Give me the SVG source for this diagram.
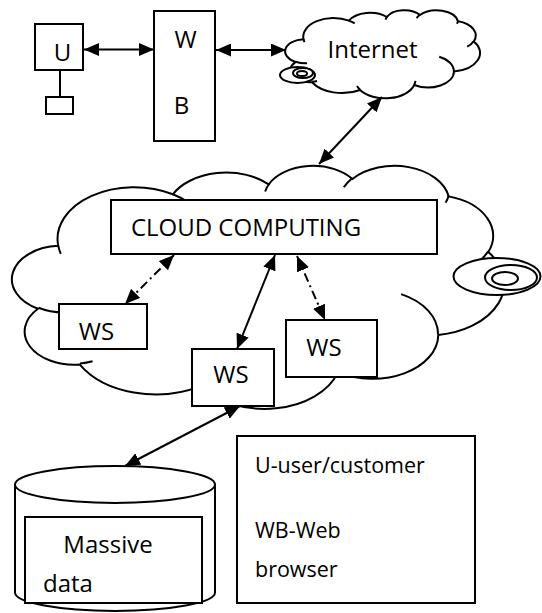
<svg xmlns="http://www.w3.org/2000/svg" width="542" height="613" viewBox="0 0 542 613">
  <defs>
    <style>
      .box { fill: #fff; stroke: #000; stroke-width: 2; }
      .ol { fill: none; stroke: #000; stroke-width: 2; }
      .cloudfill { fill: #fff; stroke: #000; stroke-width: 2; }
      .tail { fill: #fff; stroke: #000; stroke-width: 2; }
      .lbl { font-family: "Open Sans", "Noto Sans", "Liberation Sans", sans-serif; font-size: 24px; fill: #000; }
      .leg { font-family: "Open Sans", "Noto Sans", "Liberation Sans", sans-serif; font-size: 21.5px; fill: #000; }
      .mid { text-anchor: middle; }
      .link { fill: none; stroke: #000; stroke-width: 2; marker-start: url(#ah); marker-end: url(#ah); }
      .dashdot { stroke-dasharray: 9 4 2 4; }
    </style>
    <marker id="ah" viewBox="0 0 15 13" refX="15" refY="6.5" markerWidth="15" markerHeight="13" markerUnits="userSpaceOnUse" orient="auto-start-reverse">
      <path d="M0,0 L15,6.5 L0,13 z" fill="#000"/>
    </marker>
  </defs>

  <!-- large cloud -->
  <g id="cloud-computing-area">
    <path class="cloudfill" d="M58.24,245.83 A76.60,51.69 0 0 1 172.85,194.26 A60.49,40.88 0 0 1 268.71,184.31 A49.51,33.44 0 0 1 352.41,178.97 A55.09,37.10 0 0 1 448.65,196.38 A60.49,40.91 0 0 1 488.35,251.97 A76.85,51.86 0 0 1 438.27,334.89 A65.62,44.25 0 0 1 337.90,372.07 A76.59,51.83 0 0 1 200.95,385.88 A87.56,59.30 0 0 1 79.85,364.54 A49.45,33.29 0 0 1 37.99,308.73 A49.28,33.44 0 0 1 58.24,245.83 Z"/>
    <path class="ol" d="M67.23,312.25 A49.28,33.44 0 0 1 38.49,307.76 M92.58,361.31 A49.45,33.29 0 0 1 80.01,363.46 M200.90,384.88 A76.59,51.83 0 0 1 193.30,375.08 M340.97,360.47 A76.59,51.83 0 0 1 337.94,371.21 M401.11,294.12 A65.62,44.25 0 0 1 438.00,334.26 M488.10,251.37 A60.49,40.91 0 0 1 471.67,266.42 M448.69,195.52 A55.09,37.10 0 0 1 445.60,202.77 M343.82,187.23 A55.09,37.10 0 0 1 352.24,178.17 M265.14,191.55 A49.51,33.44 0 0 1 269.21,183.73 M172.80,194.21 A76.60,51.69 0 0 1 187.55,201.79 M60.81,253.81 A76.60,51.69 0 0 1 58.24,245.84"/>
    <ellipse class="tail" cx="497" cy="276.5" rx="43.5" ry="18.5"/>
    <ellipse class="tail" cx="511" cy="277.5" rx="26" ry="12.5"/>
    <ellipse class="tail" cx="505" cy="278.5" rx="13" ry="6.5"/>
  </g>

  <!-- internet cloud -->
  <g id="internet">
    <path class="cloudfill" d="M303.51,39.27 A30.33,18.72 0 0 1 348.89,20.60 A23.95,14.80 0 0 1 386.84,16.99 A19.60,12.11 0 0 1 419.98,15.06 A21.81,13.43 0 0 1 458.08,21.36 A23.95,14.82 0 0 1 473.80,41.50 A30.42,18.78 0 0 1 453.97,71.52 A25.98,16.02 0 0 1 414.24,84.99 A30.32,18.77 0 0 1 360.02,89.99 A34.67,21.48 0 0 1 312.07,82.26 A19.58,12.05 0 0 1 295.50,62.05 A19.51,12.11 0 0 1 303.51,39.27 Z"/>
    <path class="ol" d="M307.07,63.32 A19.51,12.11 0 0 1 295.70,61.70 M317.11,81.09 A19.58,12.05 0 0 1 312.14,81.87 M360.00,89.63 A30.32,18.77 0 0 1 356.99,86.08 M415.45,80.79 A30.32,18.77 0 0 1 414.25,84.68 M439.26,56.76 A25.98,16.02 0 0 1 453.87,71.29 M473.70,41.28 A23.95,14.82 0 0 1 467.20,46.73 M458.10,21.05 A21.81,13.43 0 0 1 456.88,23.68 M416.58,18.05 A21.81,13.43 0 0 1 419.91,14.77 M385.43,19.61 A19.60,12.11 0 0 1 387.04,16.78 M348.87,20.58 A30.33,18.72 0 0 1 354.71,23.32 M304.53,42.16 A30.33,18.72 0 0 1 303.51,39.27"/>
    <ellipse class="tail" cx="297.5" cy="75" rx="17.5" ry="8"/>
    <ellipse class="tail" cx="303" cy="73" rx="10" ry="5"/>
    <ellipse class="tail" cx="302" cy="73.5" rx="5" ry="2.5"/>
    <text class="lbl mid" x="372.5" y="58">Internet</text>
  </g>

  <!-- connectors -->
  <g id="connectors">
    <line class="link" x1="84" y1="49.5" x2="154" y2="49.5"/>
    <line class="link" x1="216" y1="50" x2="286" y2="50"/>
    <line class="link" x1="382" y1="97" x2="319" y2="164"/>
    <line class="link dashdot" x1="174" y1="255" x2="125" y2="304"/>
    <line class="link" x1="275" y1="255" x2="237" y2="349"/>
    <line class="link dashdot" x1="297" y1="256" x2="325" y2="320"/>
    <line class="link" x1="240" y1="406" x2="125" y2="466"/>
  </g>

  <!-- user -->
  <g id="user">
    <rect class="box" x="35" y="24" width="48" height="46"/>
    <line x1="60" y1="70" x2="60" y2="97" stroke="#000" stroke-width="2"/>
    <rect class="box" x="46" y="97" width="27" height="17"/>
    <text class="lbl mid" x="62.5" y="61">U</text>
  </g>

  <!-- web browser -->
  <g id="web-browser">
    <rect class="box" x="154" y="11" width="61" height="130"/>
    <text class="lbl mid" x="185.5" y="48">W</text>
    <text class="lbl mid" x="181.5" y="114">B</text>
  </g>

  <g id="cloud-computing">
    <rect class="box" x="111" y="200" width="326" height="54"/>
    <text class="lbl mid" x="246" y="236">CLOUD COMPUTING</text>
  </g>

  <g id="ws-left">
    <rect class="box" x="59" y="304" width="88" height="45"/>
    <text class="lbl mid" x="96.5" y="340">WS</text>
  </g>

  <g id="ws-middle">
    <rect class="box" x="192" y="349" width="82" height="57"/>
    <text class="lbl mid" x="231" y="383">WS</text>
  </g>

  <g id="ws-right">
    <rect class="box" x="286" y="320" width="91" height="57"/>
    <text class="lbl mid" x="324" y="356">WS</text>
  </g>

  <!-- data store -->
  <g id="massive-data">
    <path class="box" d="M15,484.5 L15,592.5 A100,18.5 0 0 0 215,592.5 L215,484.5"/>
    <ellipse class="box" cx="115" cy="484.5" rx="100" ry="18.5"/>
    <rect class="box" x="25" y="517" width="177" height="86"/>
    <text class="lbl mid" x="108" y="553">Massive</text>
    <text class="lbl" x="43" y="592">data</text>
  </g>

  <!-- legend -->
  <g id="legend">
    <rect class="box" x="237" y="436" width="238" height="167"/>
    <text class="leg" x="255" y="473">U-user/customer</text>
    <text class="leg" x="255" y="538">WB-Web</text>
    <text class="leg" x="255" y="577">browser</text>
  </g>
</svg>
